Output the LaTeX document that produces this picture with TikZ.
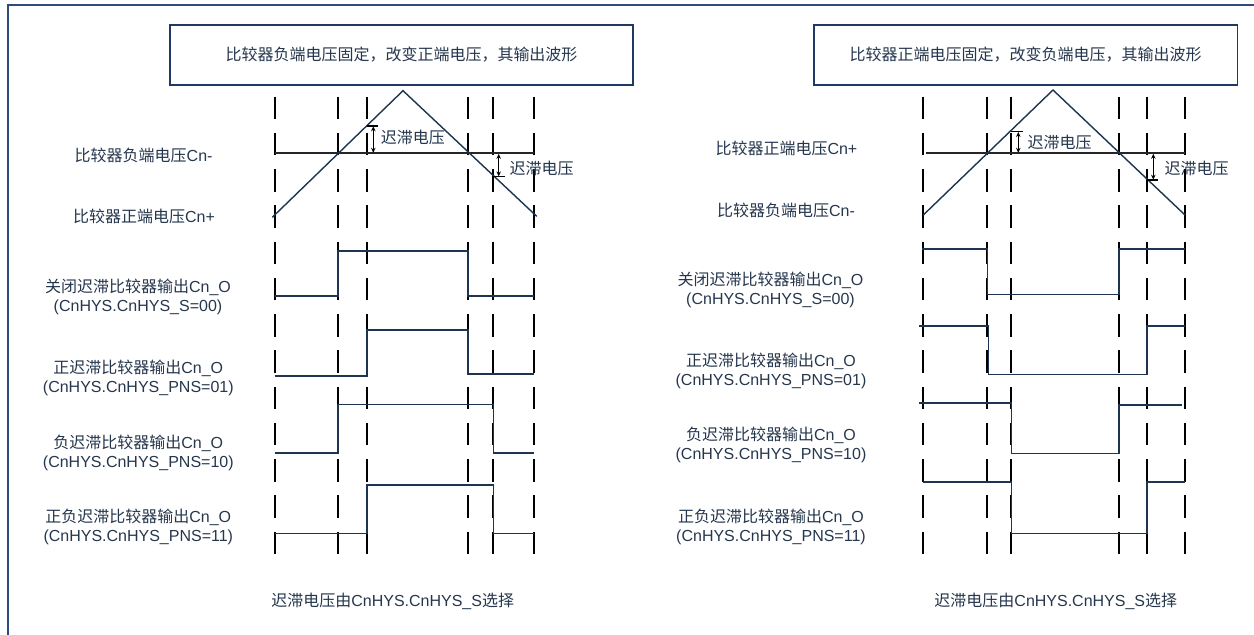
\documentclass[tikz,border=0pt]{standalone}
\usepackage{fontspec}
\setmainfont{Liberation Sans}
\newfontfamily\cjk{Noto Sans CJK SC}
\usetikzlibrary{arrows.meta}
\definecolor{frameblue}{HTML}{2F4B7C}
\definecolor{boxblue}{HTML}{1F3864}
\definecolor{wave}{HTML}{1E3450}
\definecolor{txt}{HTML}{25364D}
\begin{document}
\begin{tikzpicture}[x=1pt,y=-1pt,
  every node/.style={font=\fontsize{16}{19}\selectfont, text=txt, inner sep=0pt},
  frame/.style={draw=frameblue, line width=2.2pt},
  titlebox/.style={draw=boxblue, line width=1.7pt, minimum height=60.3pt},
  guide/.style={draw=black, line width=1.7pt, dash pattern=on 22.5pt off 13.75pt},
  ref/.style={draw=black!85, line width=1.8pt},
  tri/.style={draw=wave, line width=1.4pt},
  sig/.style={draw=wave, line width=1.6pt},
  hyst/.style={draw=black, line width=1.3pt, {Stealth[length=5pt,width=4.5pt]}-{Stealth[length=5pt,width=4.5pt]}},
  tick/.style={draw=black, line width=1.3pt},
  lbl/.style={align=center}
]
\useasboundingbox (0,0) rectangle (1254,635);
% outer frame (only top and left edges visible)
\draw[frame] (8.3,635) -- (8.3,5) -- (1254,5);

% title boxes
\node[titlebox, minimum width=463pt] (t1) at (401.5,54.85) {{\cjk 比较器负端电压固定，改变正端电压，其输出波形}};
\node[titlebox, minimum width=423.8pt] (t2) at (1025.7,54.85) {{\cjk 比较器正端电压固定，改变负端电压，其输出波形}};

% ---------- left panel ----------
\foreach \x in {274.7,338,366.7,468,493.3,534}
  \draw[guide] (\x,96.7) -- (\x,554.3);
\coordinate (lrefA) at (274.7,153.3);
\coordinate (lrefB) at (534,153.3);
\draw[ref] (lrefA) -- (lrefB);
\coordinate (ltriA) at (272.3,217.3);
\coordinate (ltriP) at (403,90.7);
\coordinate (ltriB) at (536.7,216.3);
\draw[tri] (ltriA) -- (ltriP) -- (ltriB);
\draw[tick] (366.7,126) -- (378.3,126);
\draw[hyst] (373.3,126.3) -- (373.3,152.8);
\draw[tick] (493.3,176.7) -- (505,176.7);
\draw[hyst] (498.7,153.8) -- (498.7,176.4);
\node[anchor=west] (lh1) at (380.7,137.3) {{\cjk 迟滞电压}};
\node[anchor=west] (lh2) at (509.3,168.3) {{\cjk 迟滞电压}};

\draw[sig] (274.7,296) -- (338,296) -- (338,250.7) -- (468,250.7) -- (468,296) -- (534,296);
\draw[sig] (274.7,375.7) -- (366.7,375.7) -- (366.7,330) -- (468,330) -- (468,374) -- (534,374);
\draw[sig] (274.7,452.7) -- (338,452.7) -- (338,404.3) -- (493.3,404.3) -- (493.3,452.7) -- (534,452.7);
\draw[sig] (274.7,533.3) -- (366.7,533.3) -- (366.7,485) -- (493.3,485) -- (493.3,533.3) -- (534,533.3);

\node (l1) at (143.6,155.7) {{\cjk 比较器负端电压}Cn-};
\node (l2) at (144,216.7) {{\cjk 比较器正端电压}Cn+};
\node[lbl] (l3) at (138,296.7) {{\cjk 关闭迟滞比较器输出}Cn\_O\\(CnHYS.CnHYS\_S=00)};
\node[lbl] (l4) at (138.3,377.8) {{\cjk 正迟滞比较器输出}Cn\_O\\(CnHYS.CnHYS\_PNS=01)};
\node[lbl] (l5) at (138.3,452.7) {{\cjk 负迟滞比较器输出}Cn\_O\\(CnHYS.CnHYS\_PNS=10)};
\node[lbl] (l6) at (138.3,526.7) {{\cjk 正负迟滞比较器输出}Cn\_O\\(CnHYS.CnHYS\_PNS=11)};
\node (lb) at (392.7,601.7) {{\cjk 迟滞电压由}CnHYS.CnHYS\_S{\cjk 选择}};

% ---------- right panel ----------
\foreach \x in {922.7,987.3,1011.3,1118.7,1147,1185}
  \draw[guide] (\x,96.7) -- (\x,554.3);
\coordinate (rrefA) at (926,153.3);
\coordinate (rrefB) at (1185,153.3);
\draw[ref] (rrefA) -- (rrefB);
\coordinate (rtriA) at (923.3,215);
\coordinate (rtriP) at (1053,90);
\coordinate (rtriB) at (1185,215);
\draw[tri] (rtriA) -- (rtriP) -- (rtriB);
\draw[tick] (1011.3,131.7) -- (1023.3,131.7);
\draw[hyst] (1018.3,132) -- (1018.3,152.8);
\draw[tick] (1147,180) -- (1158.3,180);
\draw[hyst] (1153.3,153.8) -- (1153.3,179.7);
\node[anchor=west] (rh1) at (1027.3,142.7) {{\cjk 迟滞电压}};
\node[anchor=west] (rh2) at (1164.3,168.3) {{\cjk 迟滞电压}};

\draw[sig] (921.7,249) -- (987.3,249) -- (987.3,294.3) -- (1118.7,294.3) -- (1118.7,249) -- (1185,249);
\draw[sig] (919.3,325.7) -- (988.3,325.7) -- (988.3,374.3) -- (1147,374.3) -- (1147,325.7) -- (1185,325.7);
\draw[sig] (919.3,403) -- (1011.3,403) -- (1011.3,453.3) -- (1118.7,453.3) -- (1118.7,405) -- (1181.7,405);
\draw[sig] (922.7,481.7) -- (1011.3,481.7) -- (1011.3,533.3) -- (1147,533.3) -- (1147,481.7) -- (1185,481.7);

\node (r1) at (786.4,148.3) {{\cjk 比较器正端电压}Cn+};
\node (r2) at (786,210.7) {{\cjk 比较器负端电压}Cn-};
\node[lbl] (r3) at (770.5,290) {{\cjk 关闭迟滞比较器输出}Cn\_O\\(CnHYS.CnHYS\_S=00)};
\node[lbl] (r4) at (771,370.8) {{\cjk 正迟滞比较器输出}Cn\_O\\(CnHYS.CnHYS\_PNS=01)};
\node[lbl] (r5) at (771,445) {{\cjk 负迟滞比较器输出}Cn\_O\\(CnHYS.CnHYS\_PNS=10)};
\node[lbl] (r6) at (771,526.7) {{\cjk 正负迟滞比较器输出}Cn\_O\\(CnHYS.CnHYS\_PNS=11)};
\node (rb) at (1055.8,601.7) {{\cjk 迟滞电压由}CnHYS.CnHYS\_S{\cjk 选择}};
\end{tikzpicture}
\end{document}
